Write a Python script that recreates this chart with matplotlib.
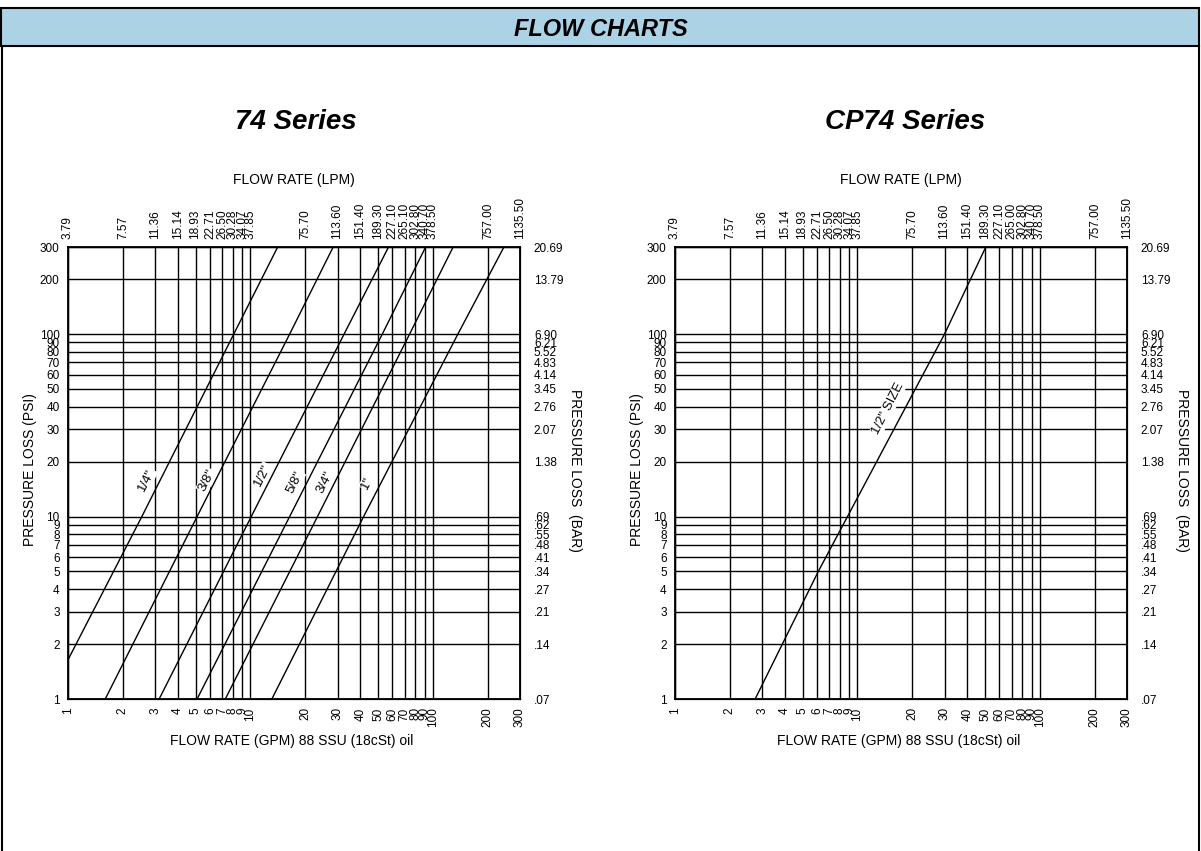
import matplotlib.pyplot as plt
from matplotlib.patches import Rectangle
from matplotlib.lines import Line2D
from matplotlib.ticker import NullLocator

plt.rcParams['font.family'] = ['Liberation Sans', 'DejaVu Sans']

# axis ticks (GPM bottom, LPM top, PSI left, BAR right)
gpm_ticks = [1, 2, 3, 4, 5, 6, 7, 8, 9, 10, 20, 30, 40, 50, 60, 70, 80, 90, 100, 200, 300]
lpm_left = ['3.79', '7.57', '11.36', '15.14', '18.93', '22.71', '26.50', '30.28', '34.07', '37.85',
            '75.70', '113.60', '151.40', '189.30', '227.10', '265.10', '302.80', '340.70', '378.50',
            '757.00', '1135.50']
lpm_right = ['3.79', '7.57', '11.36', '15.14', '18.93', '22.71', '26.50', '30.28', '34.07', '37.85',
             '75.70', '113.60', '151.40', '189.30', '227.10', '265.00', '302.80', '340.70', '378.50',
             '757.00', '1135.50']
psi_ticks = [1, 2, 3, 4, 5, 6, 7, 8, 9, 10, 20, 30, 40, 50, 60, 70, 80, 90, 100, 200, 300]
bar_labels = ['.07', '.14', '.21', '.27', '.34', '.41', '.48', '.55', '.62', '.69',
              '1.38', '2.07', '2.76', '3.45', '4.14', '4.83', '5.52', '6.21', '6.90',
              '13.79', '20.69']

# 74 series curves (GPM vs PSI)
sizes_74 = ['1/4"', '3/8"', '1/2"', '5/8"', '3/4"', '1"']
gpm_74 = [[1.0, 2.54, 8.1, 14.1],
          [1.6, 5.1, 16.4, 28.4],
          [3.16, 10.1, 32.6, 57.1],
          [5.1, 16.4, 52.8, 91.2],
          [7.28, 23.3, 74.5, 129],
          [13.1, 41.7, 137, 245]]
psi_74 = [[1.64, 10, 100, 300],
          [1, 10, 100, 300],
          [1, 10, 100, 300],
          [1, 10, 100, 300],
          [1, 10, 100, 300],
          [1, 10, 100, 300]]

# CP74 series curve
size_cp74 = '1/2" SIZE'
gpm_cp74 = [2.75, 6.1, 30, 50.5]
psi_cp74 = [1, 5, 100, 300]

# label placement
lab_x_74 = [2.7, 5.75, 11.7, 17.5, 25.6, 43.5]
lab_y_74 = [15.8, 15.8, 16.9, 15.4, 15.4, 15.2]

W, H = 1201, 851
fig = plt.figure(figsize=(W / 100, H / 100), dpi=100)


def fx(px):
    return px / W


def fy(py):
    return 1 - py / H


def setup(ax, lpm_labels):
    ax.set_xscale('log')
    ax.set_yscale('log')
    ax.set_xlim(1, 300)
    ax.set_ylim(1, 300)
    ax.set_xticks(gpm_ticks)
    ax.set_xticklabels([str(v) for v in gpm_ticks], rotation=90, fontsize=8.5)
    ax.set_yticks(psi_ticks)
    ax.set_yticklabels([str(v) for v in psi_ticks], fontsize=8.5)
    ax.xaxis.set_minor_locator(NullLocator())
    ax.yaxis.set_minor_locator(NullLocator())
    ax.tick_params(length=0, pad=6)
    ax.grid(True, color='black', lw=1.0)
    for s in ax.spines.values():
        s.set_linewidth(1.3)

    top = ax.twiny()
    top.set_xscale('log')
    top.set_xlim(1, 300)
    top.set_xticks(gpm_ticks)
    top.set_xticklabels(lpm_labels, rotation=90, fontsize=8.5)
    top.xaxis.set_minor_locator(NullLocator())
    top.tick_params(length=0, pad=6)

    right = ax.twinx()
    right.set_yscale('log')
    right.set_ylim(1, 300)
    right.set_yticks(psi_ticks)
    right.set_yticklabels(bar_labels, fontsize=8.5)
    right.yaxis.set_minor_locator(NullLocator())
    right.tick_params(length=0, pad=10)


ax1 = fig.add_axes([fx(68), fy(699), fx(452), 452 / H])
ax2 = fig.add_axes([fx(675), fy(699), fx(452), 452 / H])

for x, y in zip(gpm_74, psi_74):
    ax1.plot(x, y, color='black', lw=1.0, zorder=5)
for name, x, y in zip(sizes_74, lab_x_74, lab_y_74):
    ax1.text(x, y, name, rotation=63, ha='center', va='center', fontsize=9.5, zorder=4,
             bbox=dict(facecolor='white', edgecolor='none', pad=0.5))

ax2.plot(gpm_cp74, psi_cp74, color='black', lw=1.0, zorder=5)
ax2.text(14.7, 39, size_cp74, rotation=63, ha='center', va='center', fontsize=9.5, zorder=4,
         bbox=dict(facecolor='white', edgecolor='none', pad=0.5))

setup(ax1, lpm_left)
setup(ax2, lpm_right)

# header band and page frame
fig.patches.append(Rectangle((fx(1), fy(46)), fx(1198), 38 / H, transform=fig.transFigure,
                             facecolor='#acd2e6', edgecolor='black', lw=1.5))
for px in [1.5, 1199]:
    fig.lines.append(Line2D([fx(px), fx(px)], [0, fy(46)], transform=fig.transFigure,
                            color='black', lw=1.5))
fig.text(0.5, fy(29), 'FLOW CHARTS', ha='center', va='center', fontsize=17,
         fontweight='bold', fontstyle='italic')

for cx, title in [(296, '74 Series'), (905, 'CP74 Series')]:
    fig.text(fx(cx), fy(122), title, ha='center', va='center', fontsize=20,
             fontweight='bold', fontstyle='italic')

for off in [0, 607]:
    fig.text(fx(294 + off), fy(180), 'FLOW RATE (LPM)', ha='center', va='center', fontsize=10)
    fig.text(fx(292 + off), fy(741), 'FLOW RATE (GPM) 88 SSU (18cSt) oil',
             ha='center', va='center', fontsize=10)
    fig.text(fx(30 + off), fy(470), 'PRESSURE LOSS (PSI)', rotation=90,
             ha='center', va='center', fontsize=10)
    fig.text(fx(575 + off), fy(470), 'PRESSURE LOSS  (BAR)', rotation=270,
             ha='center', va='center', fontsize=10)

fig.savefig('out.png', dpi=100)
